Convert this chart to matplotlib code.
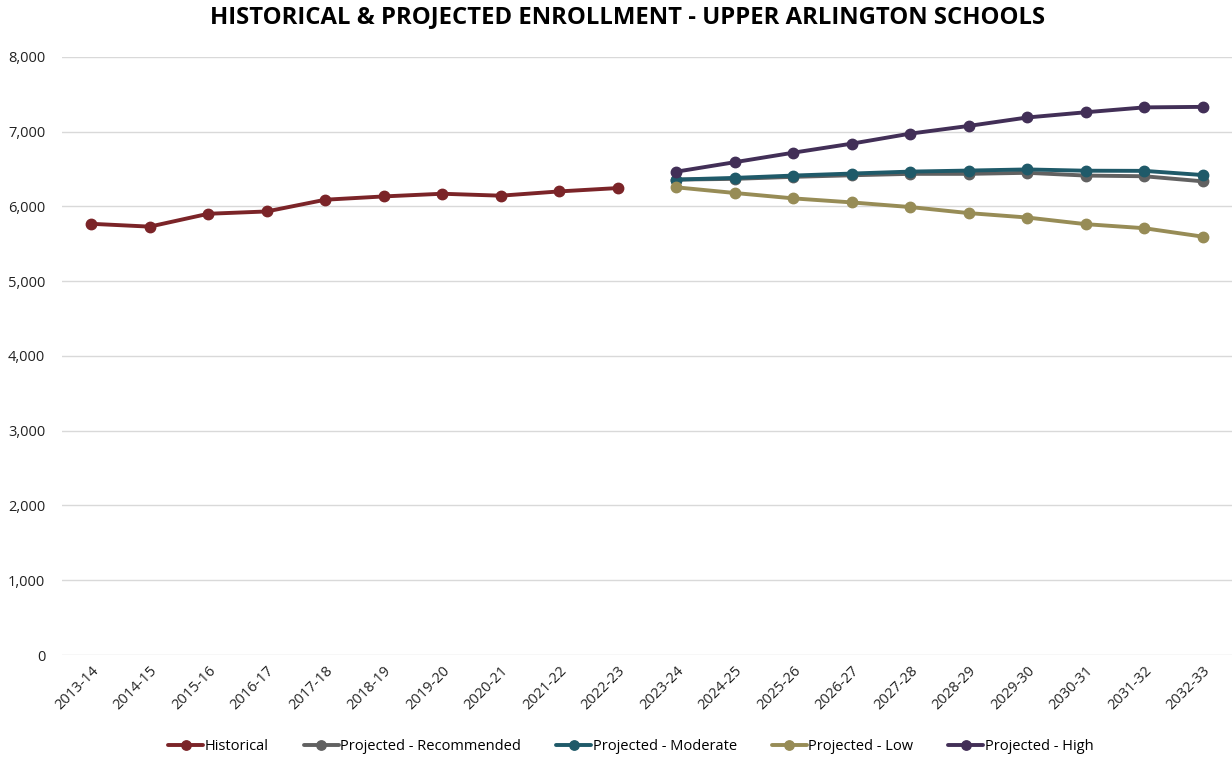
import matplotlib
matplotlib.use("Agg")
import matplotlib.pyplot as plt
from matplotlib.ticker import FuncFormatter
import numpy as np

plt.rcParams['font.family'] = ['Open Sans', 'DejaVu Sans']

years = ["2013-14", "2014-15", "2015-16", "2016-17", "2017-18", "2018-19", "2019-20",
         "2020-21", "2021-22", "2022-23", "2023-24", "2024-25", "2025-26", "2026-27",
         "2027-28", "2028-29", "2029-30", "2030-31", "2031-32", "2032-33"]

historical = [5768, 5730, 5902, 5933, 6090, 6134, 6170, 6144, 6201, 6246]
recommended = [6359, 6369, 6396, 6417, 6436, 6436, 6450, 6413, 6404, 6336]
moderate = [6359, 6382, 6413, 6440, 6466, 6480, 6495, 6478, 6476, 6420]
low = [6256, 6180, 6108, 6054, 5992, 5911, 5852, 5763, 5709, 5596]
high = [6465, 6592, 6719, 6840, 6974, 7077, 7190, 7260, 7325, 7332]

hist_idx = list(range(0, 10))
proj_idx = list(range(10, 20))

fig = plt.figure(figsize=(12.32, 7.59), dpi=100)
ax = fig.add_axes([0.0503, 0.137, 0.9497, 0.788])

series = [
    ("Historical", hist_idx, historical, "#7B2428"),
    ("Projected - Recommended", proj_idx, recommended, "#616161"),
    ("Projected - Moderate", proj_idx, moderate, "#1F5A69"),
    ("Projected - Low", proj_idx, low, "#978C56"),
    ("Projected - High", proj_idx, high, "#422F57"),
]
for name, idx, vals, col in series:
    ax.plot(idx, vals, color=col, lw=2.8, marker="o", ms=7.5, label=name,
            solid_capstyle="round", zorder=3)

ax.set_xlim(-0.5, len(years) - 0.5)
ax.set_ylim(0, 8000)
ax.set_yticks(np.arange(0, 8001, 1000))
ax.yaxis.set_major_formatter(FuncFormatter(lambda v, p: f"{int(v):,}"))
ax.set_xticks(range(len(years)))
ax.set_xticklabels(years, rotation=45, ha="right", rotation_mode="anchor")
ax.tick_params(axis="both", length=0, labelsize=10.5, colors="#222222")
ax.tick_params(axis="y", pad=12)
ax.tick_params(axis="x", pad=6)
ax.grid(axis="y", color="#D9D9D9", lw=1)
ax.set_axisbelow(True)
for s in ax.spines.values():
    s.set_visible(False)

fig.suptitle("HISTORICAL & PROJECTED ENROLLMENT - UPPER ARLINGTON SCHOOLS",
             x=0.509, y=0.993, fontsize=17.2, fontweight="bold")

fig.legend(loc="center", bbox_to_anchor=(0.512, 0.016), ncol=5, frameon=False,
           fontsize=10.5, handlelength=2.4, handletextpad=0.1, columnspacing=2.4,
           markerscale=0.9)

fig.savefig("out.png", dpi=100)
